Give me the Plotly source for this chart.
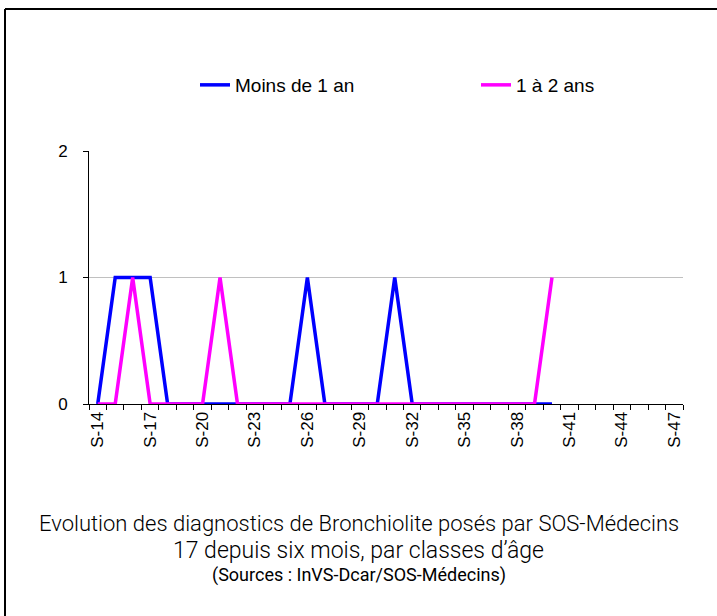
import plotly.graph_objects as go

weeks = [f"S-{n}" for n in range(14, 48)]
moins_1_an = [0, 1, 1, 1, 0, 0, 0, 0, 0, 0, 0, 0, 1, 0, 0, 0, 0, 1, 0, 0,
              0, 0, 0, 0, 0, 0, 0]
un_a_deux_ans = [0, 0, 1, 0, 0, 0, 0, 1, 0, 0, 0, 0, 0, 0, 0, 0, 0, 0, 0, 0,
                 0, 0, 0, 0, 0, 0, 1]
tick_labels = [w if i % 3 == 0 else "" for i, w in enumerate(weeks)]

W, H = 717, 616
L, R, T, B = 89, 34, 151, 212
pw, ph = W - L - R, H - T - B


def px_x(p):
    return (p - L) / pw


def px_y(p):
    return (T + ph - p) / ph


fig = go.Figure()
fig.add_trace(go.Scatter(x=weeks[:len(moins_1_an)], y=moins_1_an, mode="lines",
                         name="Moins de 1 an", line=dict(color="#0000FF", width=3.5)))
fig.add_trace(go.Scatter(x=weeks[:len(un_a_deux_ans)], y=un_a_deux_ans, mode="lines",
                         name="1 à 2 ans", line=dict(color="#FF00FF", width=3.5)))

fig.update_layout(
    width=W, height=H,
    margin=dict(l=L, r=R, t=T, b=B, autoexpand=False),
    paper_bgcolor="white", plot_bgcolor="white",
    font=dict(family="Liberation Sans, Arial, sans-serif", size=15, color="black"),
    showlegend=True,
    legend=dict(orientation="h", x=px_x(195), y=px_y(85), xanchor="left",
                yanchor="middle", entrywidth=236, entrywidthmode="pixels",
                font=dict(size=19), bgcolor="rgba(0,0,0,0)"),
    xaxis=dict(type="category", categoryorder="array", categoryarray=weeks,
               range=[-0.5, len(weeks) - 0.5], tickmode="array", tickvals=weeks,
               ticktext=tick_labels, tickson="boundaries", ticks="outside", ticklen=5,
               tickcolor="black", tickangle=-90, showline=True, linecolor="black",
               linewidth=1, showgrid=False, zeroline=False,
               tickfont=dict(size=17)),
    yaxis=dict(range=[0, 2], dtick=1, tick0=0, ticks="outside", ticklen=5,
               tickcolor="black", showline=True, linecolor="black", linewidth=1,
               showgrid=True, gridcolor="#C0C0C0", gridwidth=1, zeroline=False,
               ticklabelstandoff=12, tickfont=dict(size=17)),
)

cx = px_x(W / 2)
fig.add_annotation(x=cx, y=px_y(523), xref="paper", yref="paper",
                   text="Evolution des diagnostics de Bronchiolite posés par SOS-Médecins",
                   showarrow=False, xanchor="center", yanchor="middle",
                   font=dict(family="Roboto", size=22, weight=300, color="black"))
fig.add_annotation(x=cx, y=px_y(550), xref="paper", yref="paper",
                   text="17 depuis six mois, par classes d’âge",
                   showarrow=False, xanchor="center", yanchor="middle",
                   font=dict(family="Roboto", size=23, weight=300, color="black"))
fig.add_annotation(x=cx, y=px_y(575), xref="paper", yref="paper",
                   text="(Sources : InVS-Dcar/SOS-Médecins)",
                   showarrow=False, xanchor="center", yanchor="middle",
                   font=dict(family="Roboto", size=18, weight=400, color="black"))

# frame: top and left edges of the surrounding box
fig.add_shape(type="line", xref="paper", yref="paper",
              x0=px_x(5), x1=px_x(W + 5), y0=px_y(9), y1=px_y(9),
              line=dict(color="black", width=2))
fig.add_shape(type="line", xref="paper", yref="paper",
              x0=px_x(5), x1=px_x(5), y0=px_y(9), y1=px_y(H + 5),
              line=dict(color="black", width=2))

fig.write_html("out.html", config={"displayModeBar": False},
               post_script="document.body.style.margin='0';")
